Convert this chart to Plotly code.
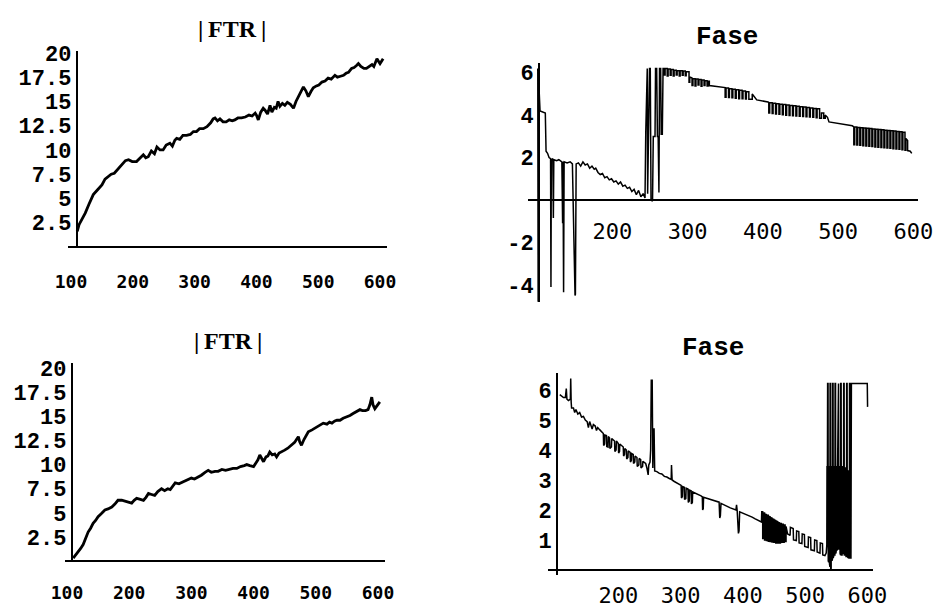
import plotly.graph_objects as go

W, H = 938, 614

# ---------------- data ----------------
ftr1_x = [110, 113, 118, 123, 129, 136, 143, 150, 155, 160, 165, 170, 176, 182, 188, 193, 199, 206, 211, 217,
          221, 225, 230, 235, 239, 244, 249, 254, 260, 264, 268, 271, 276, 281, 287, 293, 298, 303, 308, 314,
          320, 326, 330, 333, 337, 341, 346, 351, 356, 361, 365, 370, 376, 382, 388, 393, 398, 400, 403, 407,
          411, 414, 418, 422, 425, 429, 432, 435, 438, 442, 446, 450, 455, 460, 464, 468, 472, 476, 480, 484,
          488, 492, 497, 501, 506, 511, 516, 521, 527, 531, 536, 541, 545, 549, 554, 558, 562, 565, 569, 574,
          578, 582, 587, 590, 595, 598, 600, 603, 605]
ftr1_y = [1.6, 2.3, 2.9, 3.5, 4.4, 5.4, 5.9, 6.4, 7.0, 7.25, 7.5, 7.6, 8.0, 8.45, 8.9, 9.0, 8.8, 8.8, 9.1, 9.5,
          9.2, 9.3, 9.9, 9.6, 10.3, 10.0, 10.0, 10.5, 10.7, 10.4, 11.0, 11.2, 11.1, 11.5, 11.5, 11.6, 11.9, 11.9, 12.2, 12.2,
          12.4, 12.8, 13.2, 13.3, 13.0, 13.2, 12.9, 12.9, 13.1, 13.0, 13.1, 13.3, 13.3, 13.4, 13.6, 13.5, 13.8, 13.6, 13.1, 13.9,
          14.3, 14.1, 13.7, 14.6, 13.9, 14.4, 14.3, 15.0, 14.5, 14.8, 14.6, 14.9, 14.7, 14.3, 15.0, 15.5, 16.0, 16.5, 16.1, 15.5,
          16.0, 16.4, 16.6, 16.7, 17.0, 17.1, 17.4, 17.3, 17.7, 17.5, 17.6, 17.7, 17.9, 18.0, 18.4, 18.5, 18.7, 18.9, 18.6, 18.4,
          18.4, 18.6, 18.8, 18.6, 19.4, 19.1, 18.9, 19.2, 19.4]

ftr2_x = [110, 114, 118, 122, 126, 130, 134, 138, 142, 146, 150, 155, 161, 166, 172, 177, 182, 188, 193, 198,
          204, 208, 212, 218, 223, 227, 231, 236, 241, 246, 252, 257, 262, 266, 270, 274, 280, 287, 293, 300,
          305, 311, 316, 322, 327, 332, 338, 343, 349, 355, 361, 367, 373, 379, 385, 389, 394, 400, 404, 407,
          410, 413, 416, 420, 423, 426, 430, 434, 437, 441, 445, 450, 455, 461, 466, 469, 472, 474, 477, 481,
          485, 488, 494, 501, 506, 512, 518, 522, 526, 530, 534, 539, 544, 549, 555, 560, 565, 571, 575, 580,
          584, 587, 590, 592, 595, 599, 603]
ftr2_y = [0.3, 0.6, 1.0, 1.3, 1.7, 2.3, 3.0, 3.4, 3.9, 4.2, 4.6, 4.9, 5.3, 5.4, 5.6, 5.9, 6.3, 6.3, 6.2, 6.1,
          6.0, 6.3, 6.5, 6.4, 6.3, 6.6, 7.0, 6.9, 6.8, 7.2, 7.5, 7.3, 7.5, 7.4, 7.8, 8.1, 8.0, 8.2, 8.4, 8.6,
          8.5, 8.7, 8.9, 9.2, 9.4, 9.2, 9.3, 9.3, 9.5, 9.4, 9.5, 9.6, 9.6, 9.8, 9.9, 10.0, 9.9, 9.8, 10.2, 10.5,
          11.0, 10.6, 10.3, 10.8, 10.9, 11.3, 11.0, 11.1, 10.8, 11.2, 11.3, 11.5, 11.7, 12.0, 12.3, 12.6, 12.9, 12.4, 12.0, 12.6,
          13.0, 13.4, 13.6, 13.9, 14.1, 14.3, 14.2, 14.4, 14.3, 14.5, 14.6, 14.6, 14.8, 14.9, 15.1, 15.3, 15.5, 15.7, 15.6, 15.6,
          15.7, 16.2, 17.0, 16.2, 15.8, 16.1, 16.5]

# Fase (top): segments of (x, phase) samples
fase1_start = [(101, 6.2), (101.5, -4.8), (102, 5.6), (103, 5.0), (104, 4.2), (111, 4.1), (112, 2.3), (114, 2.2),
               (116, 2.0), (118, 1.95), (118.5, -4.1), (119, 1.9), (121, 1.95), (121.7, -0.85), (122.3, 1.9),
               (126, 1.85), (129, 1.9), (133, 1.8), (134, -1.1), (134.5, 1.8), (135.3, -4.35), (136, 1.8),
               (140, 1.75), (144, 1.8), (147, 1.7), (150.5, -4.5), (151, -4.45), (152, 1.7)]
fase1_ramp = [(155, 1.75), (158, 1.6), (161, 1.8), (164, 1.65), (167, 1.7), (170, 1.5), (173, 1.6), (176, 1.45),
              (178, 1.5), (181, 1.3), (184, 1.2), (187, 1.25), (190, 1.05), (193, 1.1), (196, 0.95), (199, 1.0),
              (202, 0.85), (205, 0.9), (208, 0.75), (211, 0.85), (214, 0.65), (217, 0.7), (220, 0.55), (223, 0.6),
              (226, 0.4), (229, 0.5), (232, 0.25), (235, 0.45), (238, 0.15), (241, 0.3), (243.5, 0.1)]
fase1_wrap = [(244.5, 3.2), (245.5, 6.2), (246.5, 6.2), (247, 0.3), (248, 3.1), (249.5, 6.2), (250.5, 6.2),
              (251.5, 0.0), (253.5, -0.05), (254.5, 3.0), (256.8, 3.0), (257.5, 6.2), (259, 6.2), (260, 3.0),
              (261, 3.0), (262, 0.35), (262.8, 6.2), (264.3, 6.2), (265, 3.1), (266.5, 3.1), (267.5, 6.2)]
fase1_blockA = [(268, 6.2), (269, 6.2), (269, 5.9), (270.2, 5.9), (270.2, 6.2), (273, 6.2), (273, 5.85), (274.2, 5.85),
                (274.2, 6.18), (277, 6.18), (277, 5.88), (278.2, 5.88), (278.2, 6.15), (281, 6.15), (281, 5.85),
                (282.2, 5.85), (282.2, 6.12), (285, 6.12), (285, 5.9), (286.2, 5.9), (286.2, 6.1), (289, 6.1),
                (289, 5.85), (290.2, 5.85), (290.2, 6.1), (293, 6.1), (293, 5.88), (294.2, 5.88), (294.2, 6.08),
                (297, 6.08), (297, 5.86), (298.2, 5.86), (298.2, 6.05), (302, 6.05), (302, 5.55), (303, 5.55), (303, 5.8)]
fase1_blockB = [(305, 5.75), (306, 5.75), (306, 5.4), (307.2, 5.4), (307.2, 5.72), (310, 5.72), (310, 5.38),
                (311.2, 5.38), (311.2, 5.7), (314, 5.7), (314, 5.42), (315.2, 5.42), (315.2, 5.68), (318, 5.68),
                (318, 5.36), (319.2, 5.36), (319.2, 5.66), (322, 5.66), (322, 5.4), (323.2, 5.4), (323.2, 5.62),
                (326, 5.62), (326, 5.38), (327.2, 5.38), (327.2, 5.6), (329, 5.6), (329, 5.4), (334, 5.38), (349, 5.33)]
fase1_blockC = [(349, 5.3), (350, 5.3), (350, 4.85), (351.2, 4.85), (351.2, 5.28), (354.5, 5.28), (354.5, 4.83),
                (355.7, 4.83), (355.7, 5.25), (359, 5.25), (359, 4.82), (360.2, 4.82), (360.2, 5.22), (363.5, 5.22),
                (363.5, 4.8), (364.7, 4.8), (364.7, 5.2), (368, 5.2), (368, 4.78), (369.2, 4.78), (369.2, 5.17),
                (372.5, 5.17), (372.5, 4.77), (373.7, 4.77), (373.7, 5.14), (377, 5.14), (377, 4.76), (378.2, 4.76),
                (378.2, 5.11), (381.5, 5.11), (381.5, 4.75), (386, 4.75), (386, 5.0), (388, 4.9), (392, 4.72), (407, 4.62)]
fase1_blockD = [(408, 4.6), (408, 4.1), (409.2, 4.1), (409.2, 4.58), (412.5, 4.58), (412.5, 4.08), (413.7, 4.08),
                (413.7, 4.56), (417, 4.56), (417, 4.06), (418.2, 4.06), (418.2, 4.54), (421.5, 4.54), (421.5, 4.04),
                (422.7, 4.04), (422.7, 4.52), (426, 4.52), (426, 4.02), (427.2, 4.02), (427.2, 4.5), (430.5, 4.5),
                (430.5, 4.0), (431.7, 4.0), (431.7, 4.48), (435, 4.48), (435, 3.99), (436.2, 3.99), (436.2, 4.46),
                (439.5, 4.46), (439.5, 3.97), (440.7, 3.97), (440.7, 4.44), (444, 4.44), (444, 3.96), (445.2, 3.96),
                (445.2, 4.42), (448.5, 4.42), (448.5, 3.95), (449.7, 3.95), (449.7, 4.4), (453, 4.4), (453, 3.94),
                (454.2, 3.94), (454.2, 4.38), (457.5, 4.38), (457.5, 3.92), (458.7, 3.92), (458.7, 4.36), (462, 4.36),
                (462, 3.91), (463.2, 3.91), (463.2, 4.34), (466.5, 4.34), (466.5, 3.9), (467.7, 3.9), (467.7, 4.32),
                (471, 4.32), (471, 3.88), (472.2, 3.88), (472.2, 4.3), (475.5, 4.3), (475.5, 3.86), (478, 3.86),
                (478, 4.1), (481, 4.1), (481, 3.85), (483, 3.85), (483, 4.0), (486, 3.9), (488, 3.68), (519, 3.5)]
fase1_blockE = [(521, 3.45), (521, 2.6), (522.2, 2.6), (522.2, 3.44), (525, 3.44), (525, 2.59), (526.2, 2.59),
                (526.2, 3.42), (529, 3.42), (529, 2.58), (530.2, 2.58), (530.2, 3.41), (533, 3.41), (533, 2.56),
                (534.2, 2.56), (534.2, 3.4), (537, 3.4), (537, 2.55), (538.2, 2.55), (538.2, 3.38), (541, 3.38),
                (541, 2.54), (542.2, 2.54), (542.2, 3.37), (545, 3.37), (545, 2.52), (546.2, 2.52), (546.2, 3.35),
                (549, 3.35), (549, 2.5), (550.2, 2.5), (550.2, 3.34), (553, 3.34), (553, 2.49), (554.2, 2.49),
                (554.2, 3.32), (557, 3.32), (557, 2.48), (558.2, 2.48), (558.2, 3.31), (561, 3.31), (561, 2.46),
                (562.2, 2.46), (562.2, 3.29), (565, 3.29), (565, 2.45), (566.2, 2.45), (566.2, 3.28), (569, 3.28),
                (569, 2.44), (570.2, 2.44), (570.2, 3.26), (573, 3.26), (573, 2.42), (574.2, 2.42), (574.2, 3.25),
                (577, 3.25), (577, 2.41), (578.2, 2.41), (578.2, 3.23), (581, 3.23), (581, 2.39), (582.2, 2.39),
                (582.2, 3.22), (585, 3.22), (585, 2.37), (586.2, 2.37), (586.2, 3.2), (589, 3.2), (589, 2.35),
                (590.2, 2.35), (590.2, 2.9), (592.5, 2.8), (592.5, 2.33), (596, 2.3), (598, 2.2)]

# Fase (bottom)
fase2_start = [(106, 5.85), (109, 5.8), (112, 5.75), (115, 5.75), (116.5, 6.05), (117.5, 5.7), (120, 5.65), (123, 5.7),
               (123.6, 6.39), (124.3, 5.6), (125, 5.4), (128, 5.4), (130, 5.25), (132, 5.35), (135, 5.2), (138, 5.25),
               (141, 5.1), (144, 5.12), (147, 5.0), (150, 4.95), (152, 4.75), (154, 4.95), (156, 4.85), (158, 4.7),
               (160, 4.85), (163, 4.8), (165, 4.65), (167, 4.75), (170, 4.68), (173, 4.62), (176, 4.55)]
fase2_hang1 = [(176.5, 4.15), (178, 4.2), (178.5, 4.5), (181, 4.48), (181.5, 4.12), (183.5, 4.1), (184, 4.45),
               (186, 4.4), (186.5, 4.05), (189, 4.1), (189.5, 4.38), (192, 4.35), (194, 4.3), (194.5, 3.95),
               (196.5, 4.0), (197, 4.3), (200, 4.22), (200.5, 3.9), (202, 3.95), (202.5, 4.2), (205, 4.15), (208, 4.1),
               (208.5, 3.8), (210, 3.85), (210.5, 4.05), (213, 4.0), (213.5, 3.7), (215.5, 3.75), (216, 3.97),
               (219, 3.92), (219.5, 3.6), (221, 3.65), (221.5, 3.88), (224, 3.85), (224.5, 3.55), (226.5, 3.6),
               (227, 3.8), (230, 3.75), (230.5, 3.45), (233, 3.5), (233.5, 3.72), (236, 3.68), (236.5, 3.4),
               (239, 3.45), (239.5, 3.62), (242, 3.58), (244, 3.55), (246, 3.4), (248, 3.17)]
fase2_spike = [(249, 3.5), (251, 3.6), (252, 4.0), (253, 6.33), (254.5, 6.33), (255.5, 3.4), (256.5, 4.7),
               (257.5, 4.7), (258.5, 3.3)]
fase2_mid = [(262, 3.28), (266, 3.22), (270, 3.2), (274, 3.12), (278, 3.1), (282, 3.05), (285, 3.02), (285.5, 3.5),
             (286.5, 3.0), (290, 2.95), (294, 2.9), (298, 2.87), (301, 2.82), (301.5, 2.4), (303, 2.45), (303.5, 2.78),
             (306, 2.76), (306.5, 2.35), (308.5, 2.38), (309, 2.73), (312, 2.7), (312.5, 2.25), (314, 2.3),
             (314.5, 2.66), (317, 2.64), (317.5, 2.2), (319, 2.25), (319.5, 2.6), (322, 2.58), (326, 2.55), (330, 2.5),
             (333, 2.47), (335, 2.44), (335.5, 2.0), (336.5, 2.05), (337, 2.42), (340, 2.4), (344, 2.38), (348, 2.36),
             (352, 2.33), (356, 2.3), (360, 2.27), (362, 2.26), (363, 1.73), (364, 1.8), (365, 2.22), (370, 2.18),
             (375, 2.12), (380, 2.07), (385, 2.02), (389, 2.0), (390, 2.17), (391, 1.98), (393, 1.22), (394, 1.3),
             (395, 1.94), (400, 1.9), (405, 1.85), (410, 1.8), (415, 1.76), (420, 1.7), (425, 1.65), (430, 1.6)]
fase2_block = [(430.5, 1.94), (432, 1.94), (432, 1.05), (433.5, 1.05), (433.5, 1.9), (435, 1.9), (435, 1.0),
               (436.5, 1.0), (436.5, 1.86), (438, 1.85), (438, 0.98), (439.5, 0.98), (439.5, 1.82), (441, 1.82),
               (441, 0.96), (442.5, 0.96), (442.5, 1.78), (444, 1.77), (444, 0.95), (445.5, 0.95), (445.5, 1.74),
               (447, 1.73), (447, 0.93), (448.5, 0.93), (448.5, 1.7), (450, 1.69), (450, 0.92), (451.5, 0.92),
               (451.5, 1.66), (453, 1.65), (453, 0.9), (454.5, 0.9), (454.5, 1.62), (456, 1.61), (456, 0.9),
               (457.5, 0.9), (457.5, 1.58), (459, 1.57), (459, 0.9), (460.5, 0.9), (460.5, 1.55), (462, 1.55),
               (462, 0.92), (463.5, 0.92), (463.5, 1.52), (465, 1.52), (465, 0.92), (466.5, 0.92), (466.5, 1.5),
               (468, 1.5), (468, 0.95), (469.5, 0.95), (469.5, 1.45), (472, 1.2)]
fase2_humps = [(474, 1.18), (476, 1.15), (476.5, 1.42), (481, 1.38), (481.5, 1.0), (486, 0.98), (486.5, 1.3),
               (490, 1.28), (490.5, 0.9), (495, 0.88), (495.5, 1.2), (499, 1.18), (499.5, 0.78), (505, 0.75),
               (505.5, 1.1), (509, 1.08), (509.5, 0.67), (515, 0.64), (515.5, 1.0), (519, 0.98), (519.5, 0.6),
               (524, 0.56), (524.5, 0.9), (528, 0.88), (528.5, 0.5), (532, 0.48), (534, 0.56)]
fase2_wrap = [(535, 0.83), (535.3, 3.44), (536, 3.44), (536.3, 6.22), (537, 6.22), (537.3, 0.3), (538, 0.25),
              (538.3, 3.44), (539, 3.44), (539.3, 0.2), (540, 0.1), (540.3, 6.22), (541, 6.22), (541.3, 0.0),
              (542, 0.05), (542.3, 3.44), (543, 3.44), (543.3, 0.3), (544, 0.35), (544.3, 6.22), (545, 6.22),
              (545.3, 0.4), (546, 0.45), (546.3, 3.44), (547, 3.44), (547.3, 0.5), (548, 0.5), (548.3, 6.22),
              (549, 6.22), (549.3, 0.55), (550, 0.6), (550.3, 3.44), (551, 3.44), (551.3, 0.65), (552, 0.7),
              (552.3, 3.44), (553, 6.22), (553.8, 6.22), (554.1, 0.7), (554.9, 0.7), (555.2, 3.44), (556, 3.44),
              (556.3, 0.55), (557, 0.5), (557.3, 6.22), (558, 6.22), (558.3, 0.5), (559.5, 0.5), (559.8, 3.44),
              (560.8, 3.44), (561.1, 0.55), (561.8, 0.55), (562.1, 6.22), (562.8, 6.22), (563.1, 0.5), (564.3, 0.5),
              (564.6, 3.4), (565.6, 3.4), (565.9, 0.45), (566.6, 0.45), (566.9, 6.22), (567.6, 6.22), (567.9, 0.45),
              (569.2, 0.4), (569.5, 3.3), (570.3, 3.3), (570.6, 0.4), (571.2, 0.4), (571.5, 6.22), (572.2, 6.22),
              (572.5, 0.4), (573.8, 0.4), (574.1, 3.3), (574.5, 6.22), (599, 6.22), (600, 6.22), (600.5, 5.44)]

fase1_pts = fase1_start + fase1_ramp + fase1_wrap + fase1_blockA + fase1_blockB + fase1_blockC + fase1_blockD + fase1_blockE
fase2_pts = fase2_start + fase2_hang1 + fase2_spike + fase2_mid + fase2_block + fase2_humps + fase2_wrap

ftr_yticks = [2.5, 5, 7.5, 10, 12.5, 15, 17.5, 20]
ftr_yticktext = ["2.5", "5", "7.5", "10", "12.5", "15", "17.5", "20"]
ftr_xticks = [100, 200, 300, 400, 500, 600]
fase_xticks = [200, 300, 400, 500, 600]
fase1_yticks = [-4, -2, 2, 4, 6]
fase1_yticktext = ["-4", "-2", "2", "4", "6"]
fase2_yticks = [1, 2, 3, 4, 5, 6]
titles = ["|\u2009FTR\u2009|", "Fase", "|\u2009FTR\u2009|", "Fase"]

# ---------------- layout helpers (pixel geometry) ----------------
def xdom(a, b):
    return [a / W, b / W]

def ydom(top, bot):
    return [(H - bot) / H, (H - top) / H]

def py(p):
    return (H - p) / H

MONO = "Liberation Mono"
SMONO = "DejaVu Sans Mono"

fig = go.Figure()
line_ftr = dict(color="black", width=2.8)
line_fase = dict(color="black", width=1.5)

fig.add_trace(go.Scatter(x=ftr1_x, y=ftr1_y, mode="lines", line=line_ftr, xaxis="x", yaxis="y"))
fig.add_trace(go.Scatter(x=[p[0] for p in fase1_pts], y=[p[1] for p in fase1_pts], mode="lines",
                         line=line_fase, xaxis="x2", yaxis="y2"))
fig.add_trace(go.Scatter(x=ftr2_x, y=ftr2_y, mode="lines", line=line_ftr, xaxis="x3", yaxis="y3"))
fig.add_trace(go.Scatter(x=[p[0] for p in fase2_pts], y=[p[1] for p in fase2_pts], mode="lines",
                         line=line_fase, xaxis="x4", yaxis="y4"))

common = dict(showgrid=False, zeroline=False, showline=True, linecolor="black", ticks="",
              anchor="free", fixedrange=True, automargin=False)

ftr_xfont = dict(family=SMONO, size=18, color="black", weight="bold")
ftr_yfont = dict(family=MONO, size=22, color="black", weight="bold")
fase_xfont = dict(family=SMONO, size=22, color="black")
fase_yfont = dict(family=MONO, size=22, color="black", weight="bold")

fig.update_layout(
    width=W, height=H, autosize=False,
    margin=dict(l=0, r=0, t=0, b=0, pad=0, autoexpand=False),
    paper_bgcolor="white", plot_bgcolor="white",
    showlegend=False,
    # top-left |FTR|
    xaxis=dict(domain=xdom(68, 387), range=[95.1, 611.3], position=py(247), linewidth=2.4,
               tickvals=ftr_xticks, tickfont=ftr_xfont, ticklabelstandoff=18, **common),
    yaxis=dict(domain=ydom(51, 247), range=[0, 20.2], position=77 / W, linewidth=2.4,
               tickvals=ftr_yticks, ticktext=ftr_yticktext, tickfont=ftr_yfont, ticklabelstandoff=0, **common),
    # top-right Fase
    xaxis2=dict(domain=xdom(528, 918), range=[88, 606.3], position=py(200), linewidth=2,
                tickvals=fase_xticks, tickfont=fase_xfont, ticklabelstandoff=12, **common),
    yaxis2=dict(domain=ydom(63, 302), range=[-4.81, 6.46], position=539 / W, linewidth=2,
                tickvals=fase1_yticks, ticktext=fase1_yticktext, tickfont=fase_yfont, ticklabelstandoff=0, **common),
    # bottom-left |FTR|
    xaxis3=dict(domain=xdom(65, 385), range=[96.8, 611.3], position=py(561), linewidth=2.4,
                tickvals=ftr_xticks, tickfont=ftr_xfont, ticklabelstandoff=15, **common),
    yaxis3=dict(domain=ydom(363, 561), range=[0, 20.54], position=72 / W, linewidth=2.4,
                tickvals=ftr_yticks, ticktext=ftr_yticktext, tickfont=ftr_yfont, ticklabelstandoff=0, **common),
    # bottom-right Fase
    xaxis4=dict(domain=xdom(548, 873), range=[87.1, 609.2], position=py(570), linewidth=2,
                tickvals=fase_xticks, tickfont=fase_xfont, ticklabelstandoff=6, **common),
    yaxis4=dict(domain=ydom(373, 575), range=[-0.17, 6.57], position=557 / W, linewidth=2,
                tickvals=fase2_yticks, tickfont=fase_yfont, ticklabelstandoff=0, **common),
)

title_pos = [(232, 29), (727, 37), (228, 341), (713, 348)]
for t, (tx, ty) in zip(titles, title_pos):
    if "FTR" in t:
        f = dict(family="Liberation Serif", size=24, color="black", weight="bold")
    else:
        f = dict(family=MONO, size=26, color="black", weight="bold")
    fig.add_annotation(text=t, x=tx / W, y=py(ty), xref="paper", yref="paper",
                       showarrow=False, xanchor="center", yanchor="middle", font=f)

fig.write_html("out.html")
